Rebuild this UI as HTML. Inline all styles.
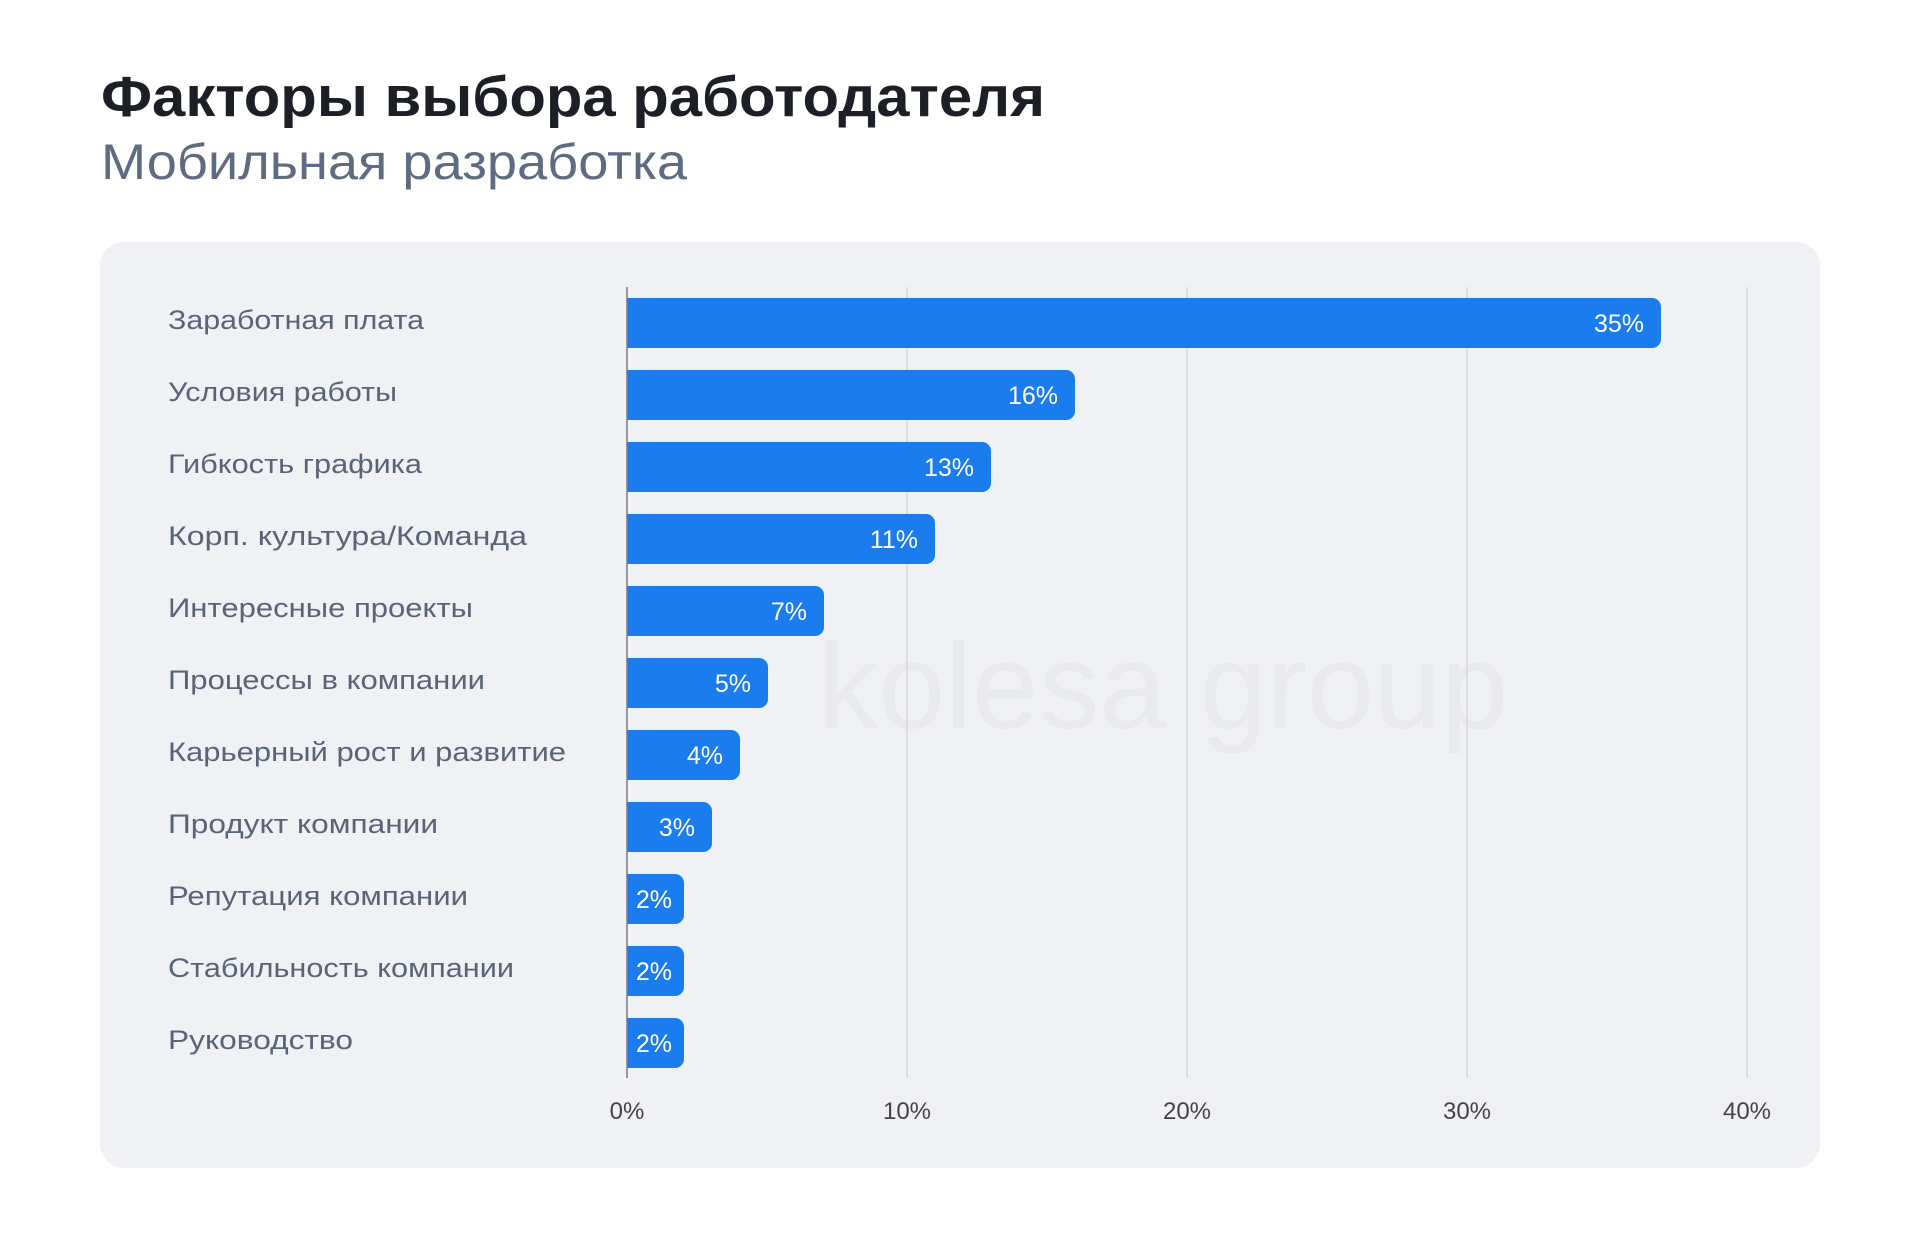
<!DOCTYPE html>
<html><head><meta charset="utf-8"><style>
html,body{margin:0;padding:0;background:#fff;}
svg{display:block;}
</style></head><body>
<svg width="1920" height="1249" viewBox="0 0 1920 1249" xmlns="http://www.w3.org/2000/svg" font-family="Liberation Sans, DejaVu Sans, sans-serif">
<text x="101" y="116" font-size="57" font-weight="bold" fill="#1c1f26" textLength="944" lengthAdjust="spacingAndGlyphs">Факторы выбора работодателя</text>
<text x="101" y="179" font-size="50" fill="#5f6b80" textLength="586" lengthAdjust="spacingAndGlyphs">Мобильная разработка</text>
<rect x="100" y="242" width="1720" height="926" rx="24" fill="#f0f1f5"/>
<text x="818" y="728" font-size="122" fill="#e9eaee" textLength="690" lengthAdjust="spacingAndGlyphs">kolesa group</text>
<g stroke="#d6d7db" stroke-width="1.5">
<line x1="907" y1="287" x2="907" y2="1078"/>
<line x1="1187" y1="287" x2="1187" y2="1078"/>
<line x1="1467" y1="287" x2="1467" y2="1078"/>
<line x1="1747" y1="287" x2="1747" y2="1078"/>
</g>
<g fill="#1b7ced">
<path d="M627 298 H1652 a9 9 0 0 1 9 9 V339 a9 9 0 0 1 -9 9 H627Z"/>
<path d="M627 370 H1066 a9 9 0 0 1 9 9 V411 a9 9 0 0 1 -9 9 H627Z"/>
<path d="M627 442 H982 a9 9 0 0 1 9 9 V483 a9 9 0 0 1 -9 9 H627Z"/>
<path d="M627 514 H926 a9 9 0 0 1 9 9 V555 a9 9 0 0 1 -9 9 H627Z"/>
<path d="M627 586 H815 a9 9 0 0 1 9 9 V627 a9 9 0 0 1 -9 9 H627Z"/>
<path d="M627 658 H759 a9 9 0 0 1 9 9 V699 a9 9 0 0 1 -9 9 H627Z"/>
<path d="M627 730 H731 a9 9 0 0 1 9 9 V771 a9 9 0 0 1 -9 9 H627Z"/>
<path d="M627 802 H703 a9 9 0 0 1 9 9 V843 a9 9 0 0 1 -9 9 H627Z"/>
<path d="M627 874 H675 a9 9 0 0 1 9 9 V915 a9 9 0 0 1 -9 9 H627Z"/>
<path d="M627 946 H675 a9 9 0 0 1 9 9 V987 a9 9 0 0 1 -9 9 H627Z"/>
<path d="M627 1018 H675 a9 9 0 0 1 9 9 V1059 a9 9 0 0 1 -9 9 H627Z"/>
</g>
<line x1="627" y1="287" x2="627" y2="1078" stroke="#7a7b80" stroke-width="1.5"/>
<g font-size="25" fill="#ffffff" text-anchor="end">
<text x="1644" y="332">35%</text>
<text x="1058" y="404">16%</text>
<text x="974" y="476">13%</text>
<text x="918" y="548">11%</text>
<text x="807" y="620">7%</text>
<text x="751" y="692">5%</text>
<text x="723" y="764">4%</text>
<text x="695" y="836">3%</text>
<text x="672" y="908">2%</text>
<text x="672" y="980">2%</text>
<text x="672" y="1052">2%</text>
</g>
<g font-size="27" fill="#5a6477">
<text x="168" y="329" textLength="256" lengthAdjust="spacingAndGlyphs">Заработная плата</text>
<text x="168" y="401" textLength="229" lengthAdjust="spacingAndGlyphs">Условия работы</text>
<text x="168" y="473" textLength="254" lengthAdjust="spacingAndGlyphs">Гибкость графика</text>
<text x="168" y="545" textLength="359" lengthAdjust="spacingAndGlyphs">Корп. культура/Команда</text>
<text x="168" y="617" textLength="305" lengthAdjust="spacingAndGlyphs">Интересные проекты</text>
<text x="168" y="689" textLength="317" lengthAdjust="spacingAndGlyphs">Процессы в компании</text>
<text x="168" y="761" textLength="398" lengthAdjust="spacingAndGlyphs">Карьерный рост и развитие</text>
<text x="168" y="833" textLength="270" lengthAdjust="spacingAndGlyphs">Продукт компании</text>
<text x="168" y="905" textLength="300" lengthAdjust="spacingAndGlyphs">Репутация компании</text>
<text x="168" y="977" textLength="346" lengthAdjust="spacingAndGlyphs">Стабильность компании</text>
<text x="168" y="1049" textLength="185" lengthAdjust="spacingAndGlyphs">Руководство</text>
</g>
<g font-size="24" fill="#444" text-anchor="middle">
<text x="627" y="1119">0%</text>
<text x="907" y="1119">10%</text>
<text x="1187" y="1119">20%</text>
<text x="1467" y="1119">30%</text>
<text x="1747" y="1119">40%</text>
</g>
</svg>
</body></html>
